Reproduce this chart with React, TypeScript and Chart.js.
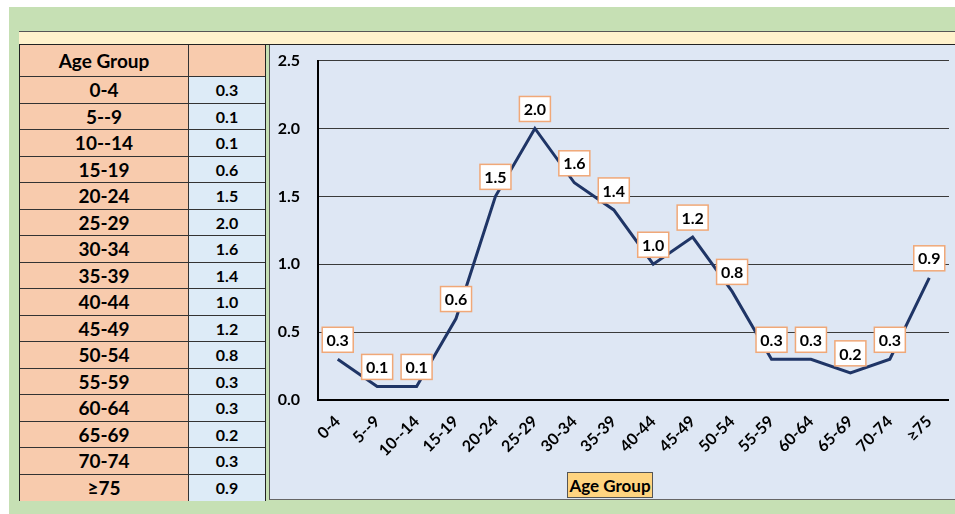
import React, { useEffect, useRef } from "react";
import { Chart, registerables } from "chart.js";
Chart.register(...registerables);

const ageGroups = ["0-4", "5--9", "10--14", "15-19", "20-24", "25-29", "30-34", "35-39", "40-44", "45-49", "50-54", "55-59", "60-64", "65-69", "70-74", "≥75"];
const rates = [0.3, 0.1, 0.1, 0.6, 1.5, 2.0, 1.6, 1.4, 1.0, 1.2, 0.8, 0.3, 0.3, 0.2, 0.3, 0.9];
const yTickValues = [0, 0.5, 1.0, 1.5, 2.0, 2.5];
const tableHeader = ["Age Group", ""];
const axisTitle = "Age Group";

const FONT = "Lato, 'Open Sans', sans-serif";

const labelBoxes = {
  id: "labelBoxes",
  afterDatasetsDraw(chart: any) {
    const ctx = chart.ctx;
    const meta = chart.getDatasetMeta(0);
    ctx.save();
    ctx.font = `bold 16px ${FONT}`;
    meta.data.forEach((pt: any, i: number) => {
      const txt = rates[i].toFixed(1);
      const w = 31;
      const h = 25;
      const x = pt.x - w / 2;
      const y = pt.y - 7 - h;
      ctx.fillStyle = "#ffffff";
      ctx.fillRect(x, y, w, h);
      ctx.strokeStyle = "#f0a878";
      ctx.lineWidth = 1.5;
      ctx.strokeRect(x, y, w, h);
      ctx.fillStyle = "#000000";
      ctx.textAlign = "center";
      ctx.textBaseline = "middle";
      ctx.fillText(txt, pt.x, y + h / 2 + 1);
    });
    ctx.restore();
  },
};

function ChartPanel() {
  const ref = useRef<HTMLCanvasElement | null>(null);
  useEffect(() => {
    if (!ref.current) return;
    const chart = new Chart(ref.current, {
      type: "line",
      data: {
        labels: ageGroups,
        datasets: [
          {
            data: rates,
            borderColor: "#1f3566",
            borderWidth: 3,
            pointRadius: 0,
            tension: 0,
            fill: false,
          },
        ],
      },
      options: {
        animation: false,
        responsive: false,
        maintainAspectRatio: false,
        layout: { padding: { top: 4, right: 5, left: 0, bottom: 0 } },
        plugins: { legend: { display: false }, tooltip: { enabled: false }, title: { display: false } },
        scales: {
          x: {
            type: "category",
            offset: true,
            grid: { display: false, drawTicks: false },
            border: { display: true, color: "#000", width: 2 },
            ticks: {
              autoSkip: false,
              maxRotation: 45,
              minRotation: 45,
              padding: 12,
              color: "#000",
              font: { family: FONT, size: 16, weight: "bold" },
            },
            afterFit: (scale: any) => {
              scale.height = 100;
            },
          },
          y: {
            min: 0,
            max: 2.5,
            afterBuildTicks: (scale: any) => {
              scale.ticks = yTickValues.map((v) => ({ value: v }));
            },
            grid: { color: "#3a3a3a", lineWidth: 1, drawTicks: false },
            border: { display: true, color: "#000", width: 2 },
            ticks: {
              padding: 18,
              color: "#000",
              font: { family: FONT, size: 16, weight: "bold" },
              callback: (v: any) => Number(v).toFixed(1),
            },
            afterFit: (scale: any) => {
              scale.width = 48;
            },
          },
        },
      } as any,
      plugins: [labelBoxes],
    });
    return () => chart.destroy();
  }, []);
  return (
    <canvas
      ref={ref}
      width={685}
      height={467}
      style={{ position: "absolute", left: 270, top: 33, width: 685, height: 467 }}
    />
  );
}

export default function App() {
  const rowTop = 77;
  const rowH = 26.5;
  return (
    <div style={{ position: "fixed", left: 0, top: 0, width: 955, height: 514, background: "#ffffff", overflow: "hidden", fontFamily: FONT }}>
      <div style={{ position: "absolute", left: 9, top: 7, width: 946, height: 507, background: "#c6e0b4" }} />
      <div style={{ position: "absolute", left: 19, top: 31, width: 936, height: 12, background: "#fff2cc", borderTop: "1px solid #555", borderBottom: "1px solid #222" }} />
      {/* chart panel */}
      <div style={{ position: "absolute", left: 269, top: 45, width: 686, height: 455, background: "#dee7f4", borderLeft: "1.5px solid #555", borderBottom: "1.5px solid #666", boxSizing: "border-box" }} />
      <ChartPanel />
      <div
        style={{
          position: "absolute",
          left: 567,
          top: 472,
          width: 86,
          height: 26,
          background: "#ffd480",
          border: "1px solid #555",
          boxSizing: "border-box",
          display: "flex",
          alignItems: "center",
          justifyContent: "center",
          fontWeight: "bold",
          fontSize: 17,
          color: "#000",
        }}
      >
        {axisTitle}
      </div>
      {/* table */}
      <div style={{ position: "absolute", left: 19, top: 44, width: 247, height: 457, border: "2px solid #222", boxSizing: "border-box" }} />
      <div style={{ position: "absolute", left: 20, top: 45, width: 169, height: rowTop - 45, background: "#f8cbad", display: "flex", alignItems: "center", justifyContent: "center", fontWeight: "bold", fontSize: 19, color: "#000", borderRight: "1px solid #333", borderBottom: "1px solid #333", boxSizing: "border-box" }}>
        {tableHeader[0]}
      </div>
      <div style={{ position: "absolute", left: 189, top: 45, width: 76, height: rowTop - 45, background: "#f8cbad", borderBottom: "1px solid #333", boxSizing: "border-box" }}>
        {tableHeader[1]}
      </div>
      {ageGroups.map((g, i) => (
        <React.Fragment key={g}>
          <div
            style={{
              position: "absolute",
              left: 20,
              top: rowTop + i * rowH,
              width: 169,
              height: rowH,
              background: "#f8cbad",
              borderRight: "1px solid #333",
              borderBottom: i < ageGroups.length - 1 ? "1px solid #333" : "none",
              boxSizing: "border-box",
              display: "flex",
              alignItems: "center",
              justifyContent: "center",
              fontWeight: "bold",
              fontSize: 19,
              color: "#000",
            }}
          >
            {g}
          </div>
          <div
            style={{
              position: "absolute",
              left: 189,
              top: rowTop + i * rowH,
              width: 76,
              height: rowH,
              background: "#ddebf7",
              borderBottom: i < ageGroups.length - 1 ? "1px solid #333" : "none",
              boxSizing: "border-box",
              display: "flex",
              alignItems: "center",
              justifyContent: "center",
              fontWeight: "bold",
              fontSize: 16,
              color: "#000",
            }}
          >
            {rates[i].toFixed(1)}
          </div>
        </React.Fragment>
      ))}
    </div>
  );
}
